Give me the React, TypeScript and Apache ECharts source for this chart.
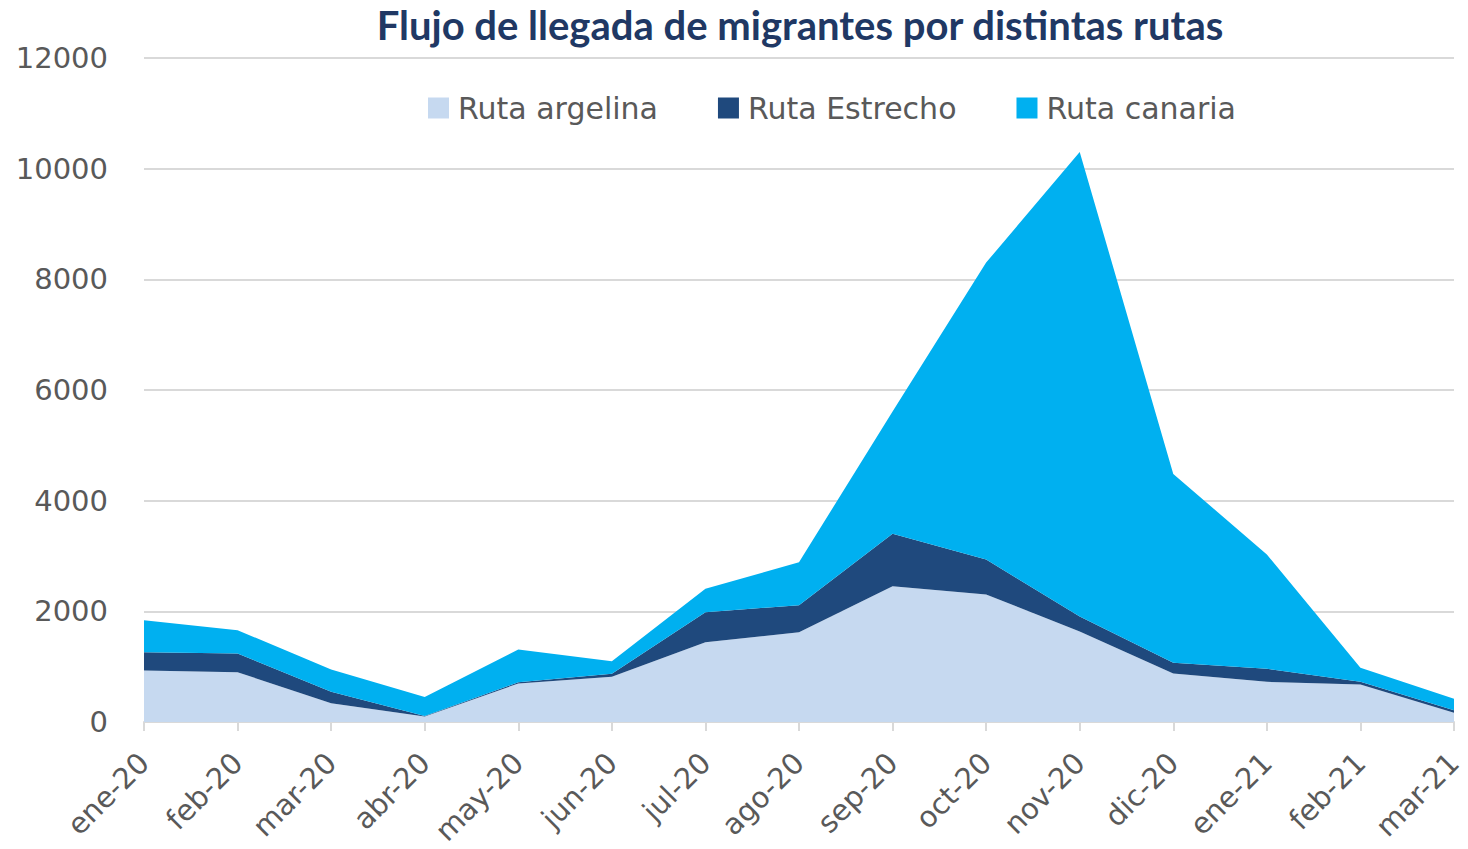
import React, { useEffect, useRef } from "react";
import * as echarts from "echarts";

const categories = ["ene-20", "feb-20", "mar-20", "abr-20", "may-20", "jun-20", "jul-20", "ago-20", "sep-20", "oct-20", "nov-20", "dic-20", "ene-21", "feb-21", "mar-21"];
const rutaArgelina = [930, 900, 340, 99, 696, 817, 1442, 1622, 2453, 2304, 1635, 876, 726, 678, 166];
const rutaEstrecho = [331, 338, 206, 9, 23, 54, 542, 488, 947, 632, 271, 194, 235, 48, 47];
const rutaCanaria = [578, 421, 403, 344, 591, 227, 423, 777, 2210, 5366, 8396, 3414, 2065, 253, 206];
const seriesNames = ["Ruta argelina", "Ruta Estrecho", "Ruta canaria"];
const yTicks = { min: 0, max: 12000, interval: 2000 };

const FONT = "'DejaVu Sans', sans-serif";

export default function App() {
  const ref = useRef<HTMLDivElement>(null);
  useEffect(() => {
    if (!ref.current) return;
    const chart = echarts.init(ref.current, undefined, { renderer: "svg" });
    const colors = ["#c6d9f0", "#1f497d", "#00b0f0"];
    const datas = [rutaArgelina, rutaEstrecho, rutaCanaria];
    chart.setOption({
      animation: false,
      backgroundColor: "#ffffff",
      title: {
        text: "Flujo de llegada de migrantes por distintas rutas",
        left: 795,
        textAlign: "center",
        top: 0,
        textStyle: { fontFamily: "Lato, sans-serif", fontWeight: "bold", fontSize: 40, color: "#203864" },
      },
      legend: {
        top: 88,
        left: 423,
        itemWidth: 21,
        itemHeight: 21,
        itemGap: 60,
        icon: "rect",
        textStyle: { fontFamily: FONT, fontSize: 30, color: "#595959", padding: [0, 0, 0, 4] },
        data: seriesNames,
      },
      grid: { left: 144, right: 14, top: 58, bottom: 127, containLabel: false, outerBoundsMode: "none" },
      xAxis: {
        type: "category",
        data: categories,
        boundaryGap: false,
        axisLine: { show: true, lineStyle: { color: "#d9d9d9", width: 2 } },
        axisTick: { show: true, length: 9, alignWithLabel: true, lineStyle: { color: "#d9d9d9", width: 2 } },
        axisLabel: { rotate: 45, margin: 36, fontFamily: FONT, fontSize: 29, color: "#595959", interval: 0 },
        splitLine: { show: false },
      },
      yAxis: {
        type: "value",
        min: yTicks.min,
        max: yTicks.max,
        interval: yTicks.interval,
        axisLine: { show: false },
        axisTick: { show: false },
        axisLabel: { margin: 36, fontFamily: FONT, fontSize: 29, color: "#595959", formatter: (v: number) => String(v) },
        splitLine: { lineStyle: { color: "#d9d9d9", width: 2 } },
      },
      series: seriesNames.map((name, i) => ({
        name,
        type: "line",
        stack: "total",
        data: datas[i],
        symbol: "none",
        lineStyle: { width: 0 },
        areaStyle: { color: colors[i], opacity: 1 },
        itemStyle: { color: colors[i] },
        z: 3,
      })),
    });
    return () => chart.dispose();
  }, []);
  return <div ref={ref} style={{ position: "fixed", left: 0, top: 0, width: 1468, height: 849 }} />;
}
